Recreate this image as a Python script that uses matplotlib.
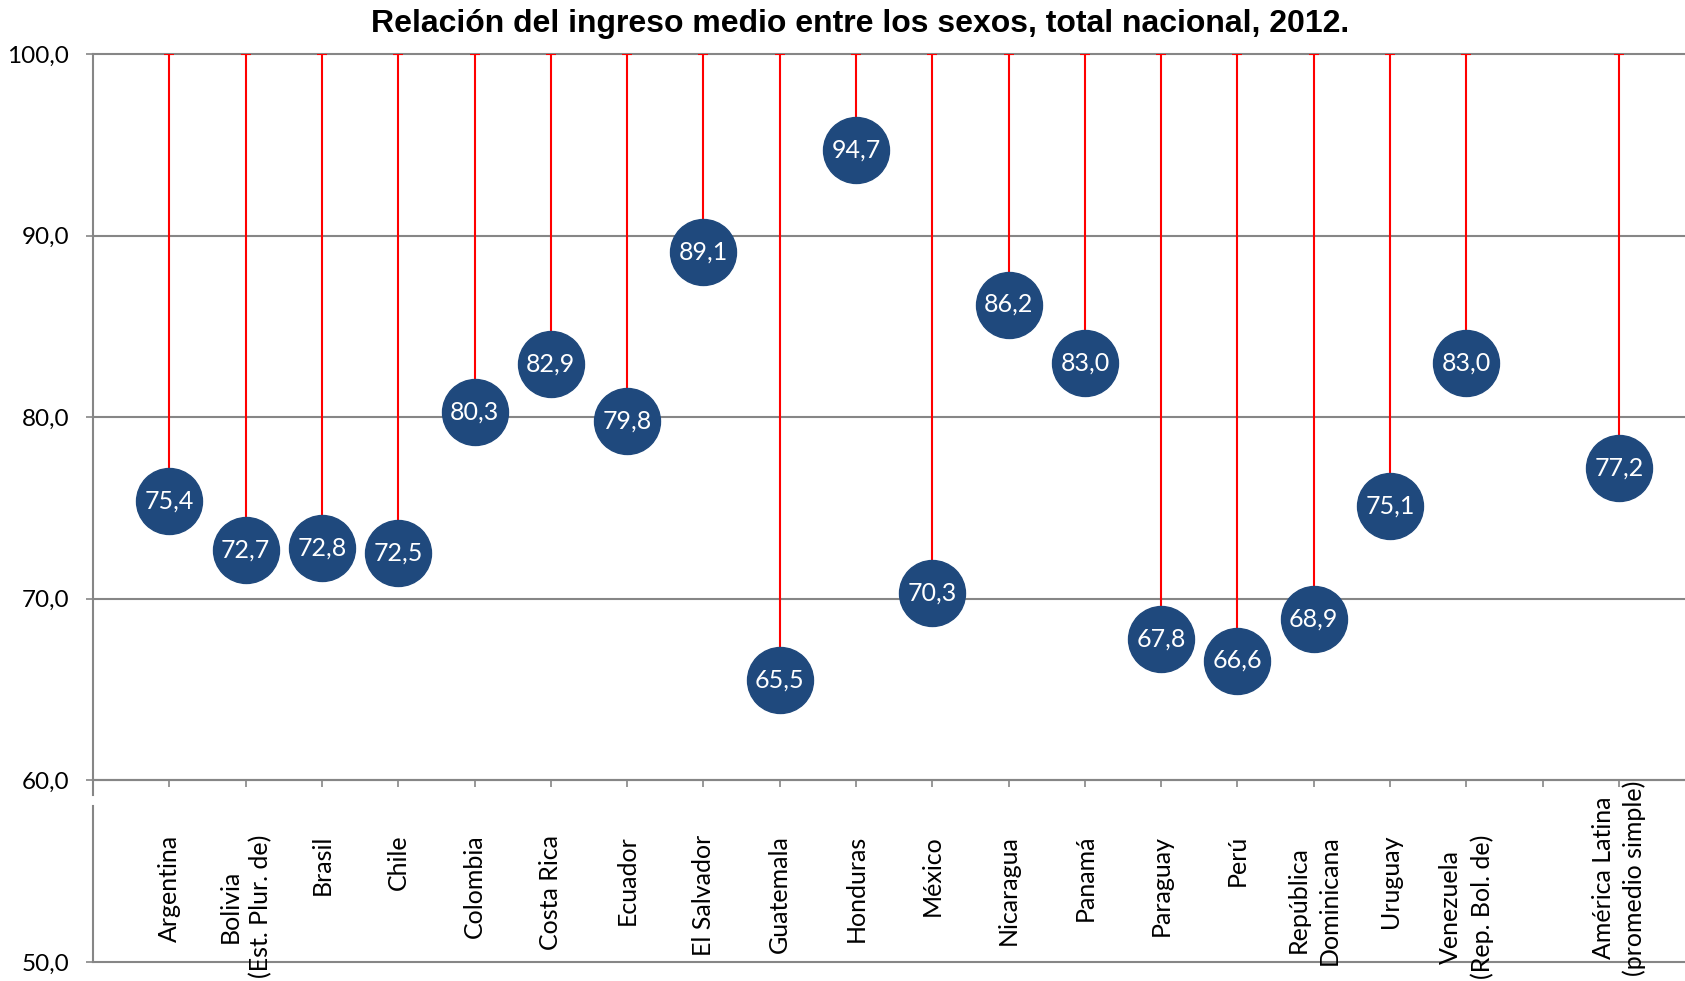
import numpy as np
import matplotlib.pyplot as plt

# datos
paises = ["Argentina", "Bolivia\n(Est. Plur. de)", "Brasil", "Chile", "Colombia",
          "Costa Rica", "Ecuador", "El Salvador", "Guatemala", "Honduras", "México",
          "Nicaragua", "Panamá", "Paraguay", "Perú", "República\nDominicana",
          "Uruguay", "Venezuela\n(Rep. Bol. de)", "", "América Latina\n(promedio simple)"]
valores = [75.4, 72.7, 72.8, 72.5, 80.3, 82.9, 79.8, 89.1, 65.5, 94.7, 70.3,
           86.2, 83.0, 67.8, 66.6, 68.9, 75.1, 83.0, np.nan, 77.2]
yticks = [50, 60, 70, 80, 90, 100]

TITULO = "Relación del ingreso medio entre los sexos, total nacional, 2012."
AZUL = "#1f497d"
GRIS = "#868686"
FUENTE = "Lato"

fig = plt.figure(figsize=(16.85, 9.81), dpi=100)
ax = fig.add_axes([0.0552, 0.0194, 0.9509, 0.9256])

x = np.arange(1, len(paises) + 1)
v = np.array(valores)
ok = ~np.isnan(v)

ax.set_xlim(0, 21)
ax.set_ylim(50, 100)

# lineas rojas hasta 100
ax.errorbar(x[ok], v[ok], yerr=[np.zeros(ok.sum()), 100 - v[ok]], fmt='none',
            ecolor='red', elinewidth=1.5, capsize=3.6, capthick=1.5, zorder=3)
ax.plot(x[ok], v[ok], 'o', ms=47.5, color=AZUL, zorder=4)
for xi, vi in zip(x[ok], v[ok]):
    ax.text(xi, vi, f"{vi:.1f}".replace('.', ','), color='white', fontsize=18,
            family=FUENTE, ha='center', va='center', zorder=5)

# rejilla y ejes
for t in yticks:
    ax.axhline(t, color=GRIS, lw=1.5, zorder=1, clip_on=False)
ax.set_yticks(yticks)
ax.set_yticklabels([f"{t:.1f}".replace('.', ',') for t in yticks],
                   fontsize=17.5, family=FUENTE)
ax.tick_params(axis='y', length=5, width=1.2, color=GRIS, pad=12)
ax.set_xticks(x)
ax.set_xticklabels([])
ax.tick_params(axis='x', length=5, width=1.2, color=GRIS, direction='out')
ax.spines['bottom'].set_position(('data', 60))
ax.spines['bottom'].set_color(GRIS)
ax.spines['bottom'].set_linewidth(1.5)
for s in ['top', 'right', 'left']:
    ax.spines[s].set_visible(False)
ax.plot([0, 0], [50, 58.6], color=GRIS, lw=1.5, clip_on=False, zorder=2)
ax.plot([0, 0], [59.2, 100], color=GRIS, lw=1.5, clip_on=False, zorder=2)

# etiquetas de paises
for xi, p in zip(x, paises):
    ytop = 60.0 if p.startswith("América") else 57.0
    ax.text(xi, ytop, p, rotation=90, ha='center', va='top', fontsize=18,
            family=FUENTE, multialignment='center', linespacing=1.4,
            clip_on=False)

fig.text(0.5104, 0.9755, TITULO, ha='center', va='center', fontsize=23,
         fontweight='bold', family='Liberation Sans')

fig.savefig("out.png", dpi=100)
